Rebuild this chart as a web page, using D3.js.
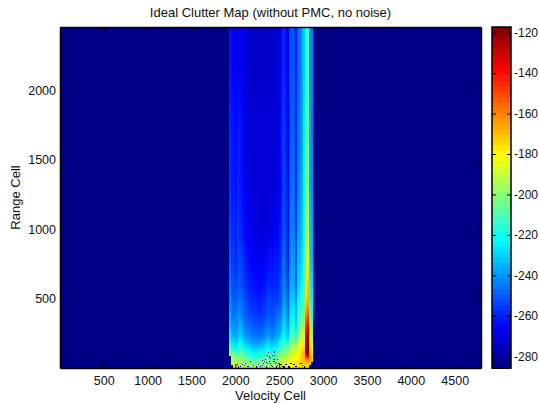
<!DOCTYPE html>
<html>
<head>
<meta charset="utf-8">
<script src="https://cdn.jsdelivr.net/npm/d3@7"></script>
<style>
  html, body { margin: 0; padding: 0; background: #fff; }
  svg { display: block; }
  text { font-family: "Liberation Sans", Arial, sans-serif; fill: #111; }
  .axis path, .axis line { stroke: #000; }
</style>
</head>
<body>
<div id="chart"></div>
<script>
const velocityTicks = [500, 1000, 1500, 2000, 2500, 3000, 3500, 4000, 4500];
const rangeTicks = [500, 1000, 1500, 2000];
const colorTicks = [-120, -140, -160, -180, -200, -220, -240, -260, -280];

const velocityEdges = [1927, 1950, 1973, 1996, 2018, 2041, 2064, 2087, 2109, 2132, 2155, 2178, 2201, 2223, 2246,
  2269, 2292, 2315, 2337, 2360, 2383, 2406, 2429, 2451, 2474, 2497, 2520, 2543, 2565, 2588, 2611, 2634, 2657, 2679,
  2702, 2725, 2748, 2771, 2793, 2816, 2839, 2862, 2885];
const rangeEdges = [2457, 1930, 1497, 1136, 848, 667, 523, 415, 328, 256, 198, 155, 119, 90, 69, 47, 25, 1];

// clutter power in dB, one row per range band (far to near), one value per velocity band
const clutter = [
  [-262,-266,-268,-267,-265,-265,-267,-270,-271,-272,-273,-273,-273,-273,-273,-273,-273,-273,-273,-273,-273,-273,-272,-272,-270,-268,-261,-258,-263,-269,-254,-250,-252,-261,-247,-244,-238,-228,-222,-206,-240,-246],
  [-258,-262,-263,-264,-261,-262,-265,-268,-270,-271,-272,-272,-272,-272,-272,-272,-272,-272,-272,-272,-272,-272,-271,-270,-269,-266,-259,-256,-261,-268,-252,-248,-250,-259,-244,-242,-236,-225,-216,-198,-238,-244],
  [-257,-261,-262,-263,-259,-260,-263,-266,-268,-269,-270,-270,-271,-271,-271,-271,-271,-271,-271,-271,-271,-271,-270,-269,-268,-265,-258,-254,-259,-267,-250,-246,-248,-258,-242,-240,-234,-222,-208,-194,-236,-242],
  [-254,-259,-259,-261,-256,-257,-260,-263,-265,-266,-267,-268,-269,-269,-270,-270,-270,-270,-270,-270,-269,-268,-266,-266,-265,-262,-255,-251,-256,-264,-246,-243,-245,-255,-238,-236,-231,-218,-198,-186,-232,-238],
  [-250,-255,-255,-258,-252,-253,-256,-259,-261,-263,-264,-265,-266,-266,-267,-267,-267,-266,-266,-264,-262,-263,-262,-261,-261,-258,-251,-246,-252,-260,-242,-238,-241,-251,-233,-231,-226,-214,-186,-178,-228,-234],
  [-246,-252,-252,-254,-249,-249,-252,-255,-257,-259,-260,-261,-262,-263,-264,-264,-263,-262,-260,-258,-258,-260,-258,-257,-257,-254,-248,-242,-248,-256,-238,-234,-237,-247,-229,-226,-221,-210,-178,-172,-223,-230],
  [-242,-248,-248,-250,-245,-245,-248,-251,-253,-255,-256,-257,-258,-259,-260,-260,-259,-258,-256,-254,-254,-256,-254,-252,-252,-250,-244,-238,-243,-251,-232,-228,-230,-240,-222,-218,-213,-206,-170,-165,-215,-225],
  [-238,-244,-245,-246,-241,-241,-244,-247,-249,-251,-252,-253,-254,-255,-256,-256,-255,-254,-252,-250,-250,-252,-250,-248,-246,-245,-238,-232,-238,-245,-227,-222,-224,-234,-216,-212,-206,-200,-158,-150,-205,-218],
  [-232,-240,-241,-242,-236,-235,-238,-242,-244,-246,-247,-248,-249,-250,-251,-251,-250,-248,-246,-244,-246,-248,-245,-243,-241,-240,-232,-226,-232,-239,-221,-216,-216,-227,-207,-202,-197,-193,-144,-136,-192,-202],
  [-225,-235,-236,-238,-231,-228,-232,-236,-239,-241,-242,-243,-244,-245,-246,-246,-245,-243,-240,-238,-240,-242,-240,-238,-236,-232,-225,-220,-226,-231,-213,-208,-208,-218,-197,-193,-189,-186,-132,-126,-185,-196],
  [-212,-226,-226,-230,-224,-222,-224,-228,-231,-233,-235,-236,-237,-238,-239,-238,-236,-234,-230,-226,-232,-234,-231,-229,-226,-222,-216,-212,-218,-214,-204,-200,-198,-204,-188,-186,-181,-177,-124,-120,-175,-188],
  [-205,-216,-218,-221,-218,-213,-216,-220,-223,-225,-227,-229,-230,-231,-230,-228,-226,-226,-222,-222,-225,-226,-222,-220,-218,-214,-208,-205,-209,-204,-197,-193,-190,-194,-183,-180,-176,-172,-122,-119,-170,-182],
  [-198,-206,-208,-210,-212,-205,-208,-212,-214,-216,-218,-220,-221,-222,-220,-218,-218,-220,-216,-214,-218,-218,-214,-212,-208,-204,-198,-198,-200,-196,-190,-186,-184,-187,-178,-176,-172,-166,-124,-122,-165,-176],
  [-285,-196,-200,-202,-204,-200,-203,-207,-209,-211,-213,-215,-216,-217,-215,-213,-213,-213,-211,-208,-213,-213,-209,-207,-203,-199,-195,-193,-195,-191,-187,-184,-182,-183,-178,-176,-172,-166,-148,-142,-166,-176],
  [-285,-192,-195,-197,-199,-197,-199,-201,-204,-206,-208,-210,-210,-212,-210,-208,-208,-208,-206,-204,-208,-208,-204,-202,-198,-195,-192,-190,-191,-188,-185,-182,-180,-180,-176,-174,-172,-168,-164,-160,-166,-174],
  [-285,-189,-191,-192,-194,-194,-196,-197,-199,-200,-202,-204,-204,-205,-204,-203,-202,-202,-200,-200,-202,-202,-200,-197,-194,-191,-188,-186,-187,-184,-180,-178,-176,-177,-175,-174,-172,-170,-168,-168,-174,-285],
  [-285,-285,-186,-188,-190,-190,-192,-192,-194,-196,-197,-198,-198,-198,-199,-199,-197,-197,-195,-195,-195,-195,-194,-193,-190,-187,-185,-183,-183,-181,-180,-178,-178,-177,-176,-176,-175,-175,-176,-180,-285,-285]
];

// isolated deep nulls near the bottom of the map
const nullVelocity = [2372, 2440, 2360, 2417, 2337, 2394, 2429, 2360, 2315, 2394, 2303, 2166, 2109, 2075, 2018, 2258, 2201, 2440, 2440, 2474, 2429, 2451, 2486, 2509, 2566, 2623, 2657, 2737, 2759, 2052, 2132, 2235, 2280, 2348, 2417, 2463, 2532, 2600, 2680, 2782, 2030, 2098, 2144, 2326, 2383, 2406, 2474, 2543, 2303, 2349, 2383, 2463];
const nullRange = [119, 126, 97, 97, 69, 76, 69, 40, 40, 40, 25, 54, 40, 32, 32, 32, 25, 119, 97, 69, 54, 40, 40, 32, 32, 40, 32, 40, 25, 18, 18, 12, 18, 12, 18, 12, 18, 12, 18, 12, 12, 25, 18, 54, 54, 25, 25, 12, 62, 47, 84, 47];
const nullLevel = -282;

const colorMin = -285.8, colorMax = -117.2;
const outside = -285; // no clutter at this cell

const width = 539, height = 403;
const plot = { left: 60, right: 481, top: 27, bottom: 368 };
const bar = { left: 492, right: 511, top: 27, bottom: 368 };

const svg = d3.select("#chart").append("svg")
  .attr("width", width)
  .attr("height", height);

const x = d3.scaleLinear().domain([1, 4800]).range([plot.left, plot.right]);
const y = d3.scaleLinear().domain([1, 2457]).range([plot.bottom, plot.top]);
const c = d3.scaleLinear().domain([colorMin, colorMax]).range([bar.bottom, bar.top]);

// 64 step jet colormap
function jet(t) {
  const level = Math.min(63, Math.floor(t * 64));
  const v = (level + 0.5) / 64;
  const ch = d => Math.round(255 * Math.max(0, Math.min(1, 1.5 - Math.abs(4 * v - d))));
  return `rgb(${ch(3)},${ch(2)},${ch(1)})`;
}
const colorOf = d => jet((d - colorMin) / (colorMax - colorMin));

// map background
svg.append("rect")
  .attr("x", plot.left).attr("y", plot.top)
  .attr("width", plot.right - plot.left).attr("height", plot.bottom - plot.top)
  .attr("fill", colorOf(outside));

// one vertical gradient per velocity band, so range shading runs smooth
const defs = svg.append("defs");
const columns = d3.range(clutter[0].length).map(j => {
  const rows = d3.range(clutter.length).filter(i => clutter[i][j] !== outside);
  return { j, rows };
});

const centerY = i => (y(rangeEdges[i]) + y(rangeEdges[i + 1])) / 2;

const gradients = defs.selectAll("linearGradient")
  .data(columns)
  .join("linearGradient")
  .attr("id", d => `col${d.j}`)
  .attr("gradientUnits", "userSpaceOnUse")
  .attr("x1", 0).attr("x2", 0)
  .attr("y1", plot.top).attr("y2", plot.bottom);

gradients.selectAll("stop")
  .data(d => d.rows.map(i => ({ i, value: clutter[i][d.j] })))
  .join("stop")
  .attr("offset", d => (centerY(d.i) - plot.top) / (plot.bottom - plot.top))
  .attr("stop-color", d => colorOf(d.value));

svg.append("g")
  .attr("shape-rendering", "crispEdges")
  .selectAll("rect")
  .data(columns)
  .join("rect")
  .attr("x", d => x(velocityEdges[d.j]))
  .attr("y", plot.top)
  .attr("width", d => x(velocityEdges[d.j + 1]) - x(velocityEdges[d.j]))
  .attr("height", d => y(rangeEdges[d3.max(d.rows) + 1]) - plot.top)
  .attr("fill", d => `url(#col${d.j})`);

svg.append("g")
  .attr("shape-rendering", "crispEdges")
  .selectAll("rect")
  .data(nullVelocity)
  .join("rect")
  .attr("x", d => x(d))
  .attr("y", (d, i) => y(nullRange[i]))
  .attr("width", 1.5)
  .attr("height", 1.5)
  .attr("fill", colorOf(nullLevel));

// axes
function drawAxis(axis, tx, ty, fontSize) {
  const g = svg.append("g")
    .attr("class", "axis")
    .attr("transform", `translate(${tx},${ty})`)
    .call(axis);
  g.selectAll("text").style("font-size", fontSize + "px");
  g.select(".domain").attr("stroke-width", 1.5);
  return g;
}

drawAxis(d3.axisBottom(x).tickValues(velocityTicks).tickSizeInner(-4).tickSizeOuter(0).tickPadding(8).tickFormat(String), 0, plot.bottom, 12.5);
drawAxis(d3.axisTop(x).tickValues(velocityTicks).tickSizeInner(-4).tickSizeOuter(0).tickFormat(""), 0, plot.top, 12.5);
drawAxis(d3.axisLeft(y).tickValues(rangeTicks).tickSizeInner(-4).tickSizeOuter(0).tickPadding(4).tickFormat(String), plot.left, 0, 12.5);
drawAxis(d3.axisRight(y).tickValues(rangeTicks).tickSizeInner(-4).tickSizeOuter(0).tickFormat(""), plot.right, 0, 12.5);

// colorbar
const levels = d3.range(64);
svg.append("g")
  .attr("shape-rendering", "crispEdges")
  .selectAll("rect")
  .data(levels)
  .join("rect")
  .attr("x", bar.left)
  .attr("y", d => bar.bottom - (d + 1) * (bar.bottom - bar.top) / 64)
  .attr("width", bar.right - bar.left)
  .attr("height", (bar.bottom - bar.top) / 64 + 0.5)
  .attr("fill", d => jet((d + 0.5) / 64));

svg.append("rect")
  .attr("x", bar.left).attr("y", bar.top)
  .attr("width", bar.right - bar.left).attr("height", bar.bottom - bar.top)
  .attr("fill", "none").attr("stroke", "#000").attr("stroke-width", 1.5);

drawAxis(d3.axisRight(c).tickValues(colorTicks).tickSizeInner(-4).tickSizeOuter(0).tickPadding(3).tickFormat(String), bar.right, 0, 12)
  .select(".domain").remove();
drawAxis(d3.axisLeft(c).tickValues(colorTicks).tickSizeInner(-4).tickSizeOuter(0).tickFormat(""), bar.left, 0, 12)
  .select(".domain").remove();

// titles
svg.append("text")
  .attr("x", (plot.left + plot.right) / 2).attr("y", 17)
  .attr("text-anchor", "middle")
  .style("font-size", "13px")
  .text("Ideal Clutter Map (without PMC, no noise)");

svg.append("text")
  .attr("x", (plot.left + plot.right) / 2).attr("y", 400)
  .attr("text-anchor", "middle")
  .style("font-size", "13px")
  .text("Velocity Cell");

svg.append("text")
  .attr("transform", `translate(20,${(plot.top + plot.bottom) / 2}) rotate(-90)`)
  .attr("text-anchor", "middle")
  .style("font-size", "13px")
  .text("Range Cell");
</script>
</body>
</html>
